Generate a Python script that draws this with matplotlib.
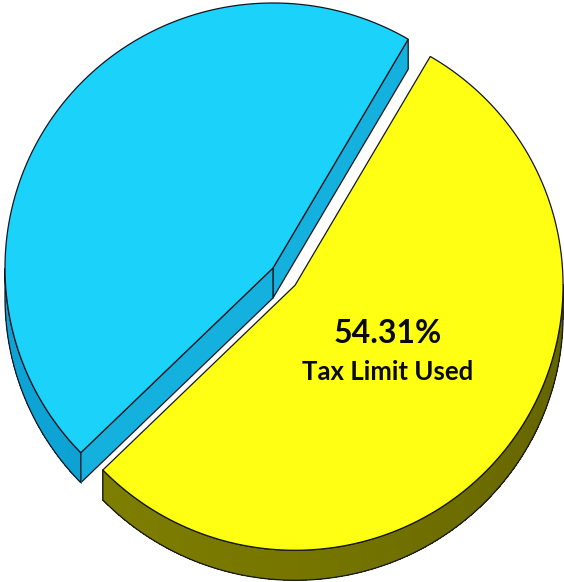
import numpy as np
import matplotlib
matplotlib.use("Agg")
import matplotlib.pyplot as plt
from matplotlib.patches import Polygon

# slice data (percent of tax limit)
labels = ["Tax Limit Used", "Tax Limit Remaining"]
shares = [54.31, 45.69]
top_colors = ["#FFFF14", "#1AD2FA"]
side_colors = ["#717100", "#0C92BE"]
radial_colors = ["#9A9A00", "#14B0DE"]
explode = [28, 0]          # pixels along the slice bisector
start_angle = 59.7         # degrees, slices run clockwise from here

W, H = 564, 582
cx, cy = 273, 268          # pie centre in pixel space
rx, ry = 268, 265
depth = 30
edge = "#15151f"


def pt(ox, oy, t, dz=0):
    return (ox + rx * np.cos(t), oy - ry * np.sin(t) + dz)


def shade(hex_col, t):
    # lighter on the left of the rim, darker towards the front/right
    rgb = np.array(matplotlib.colors.to_rgb(hex_col))
    f = 1.0 + 0.12 * np.cos(t - np.radians(200))
    return tuple(np.clip(rgb * f, 0, 1))


fig = plt.figure(figsize=(W / 100, H / 100), dpi=100)
ax = fig.add_axes([0, 0, 1, 1])
ax.set_xlim(0, W)
ax.set_ylim(H, 0)
ax.axis("off")

# angular extents for each slice
total = sum(shares)
spans = []
a = np.radians(start_angle)
for v in shares:
    sweep = np.radians(360 * v / total)
    spans.append((a - sweep, a))
    a -= sweep

# back slice (cyan) first, then the exploded front slice
order = [1, 0]
for i in order:
    t0, t1 = spans[i]
    mid = 0.5 * (t0 + t1)
    ox = cx + explode[i] * np.cos(mid)
    oy = cy - explode[i] * np.sin(mid)

    # radial side walls facing the viewer
    for te, sgn in [(t0, -1), (t1, 1)]:
        normal = te + sgn * np.pi / 2
        if np.sin(normal) < 0:
            p = pt(ox, oy, te)
            quad = [(ox, oy), p, (p[0], p[1] + depth), (ox, oy + depth)]
            ax.add_patch(Polygon(quad, closed=True, fc=radial_colors[i],
                                 ec=edge, lw=0.9, zorder=2))

    # outer rim on the lower half of the ellipse
    ts = np.linspace(t0, t1, 400)
    ts_n = np.mod(ts, 2 * np.pi)
    vis = ts[(ts_n > np.pi) & (ts_n < 2 * np.pi)]
    if len(vis) > 1:
        for k in range(len(vis) - 1):
            a0, a1 = vis[k], vis[k + 1]
            q = [pt(ox, oy, a0), pt(ox, oy, a1 + 0.004),
                 pt(ox, oy, a1 + 0.004, depth), pt(ox, oy, a0, depth)]
            c = shade(side_colors[i], 0.5 * (a0 + a1))
            ax.add_patch(Polygon(q, closed=True, fc=c, ec="none",
                                 antialiased=False, zorder=2))
        outline = [pt(ox, oy, a) for a in vis] + \
                  [pt(ox, oy, a, depth) for a in vis[::-1]]
        ax.add_patch(Polygon(outline, closed=True, fc="none", ec=edge,
                             lw=0.9, zorder=3))

    # top face
    arc = [pt(ox, oy, a) for a in ts]
    ax.add_patch(Polygon([(ox, oy)] + arc, closed=True, fc=top_colors[i],
                         ec=edge, lw=0.9, zorder=4))

# label on the used share
t0, t1 = spans[0]
mid = 0.5 * (t0 + t1)
lx = cx + explode[0] * np.cos(mid) + 93
ly = cy - explode[0] * np.sin(mid) + 48
ax.text(lx, ly, f"{shares[0]:.2f}%", ha="center", va="center",
        fontsize=23, fontweight="bold", family="Lato", color="#0a0a0a", zorder=5)
ax.text(lx, ly + 39, labels[0], ha="center", va="center",
        fontsize=18.5, fontweight="bold", family="Lato", color="#0a0a0a", zorder=5)

fig.savefig("out.png", dpi=100, facecolor="white")
